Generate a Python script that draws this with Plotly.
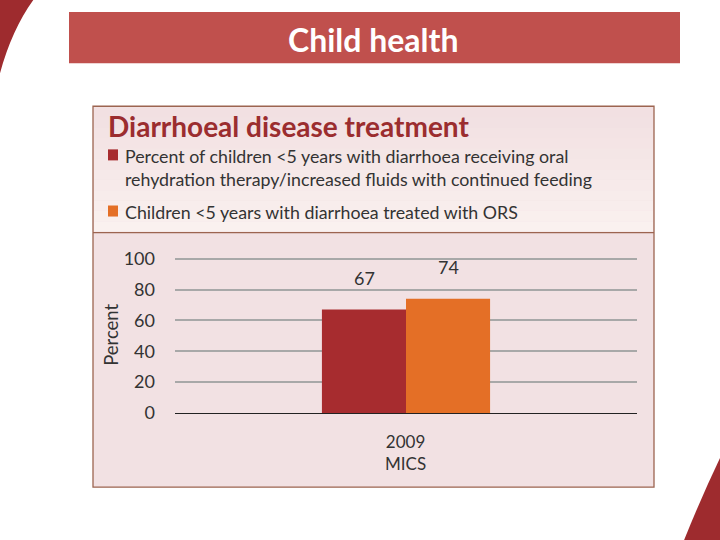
import plotly.graph_objects as go

categories = ["2009<br>MICS"]
series_names = [
    "Percent of children <5 years with diarrhoea receiving oral<br>rehydration therapy/increased fluids with continued feeding",
    "Children <5 years with diarrhoea treated with ORS",
]
series_values = [[67], [74]]
series_colors = ["#A72C2F", "#E46F26"]
y_ticks = [0, 20, 40, 60, 80, 100]

W, H = 720, 540
YMAX = 103
L, R, B = 175, 637, 413
T = B - 1.54 * YMAX  # plot area top so that 100 lands at y≈259

def px(x):
    return (x - L) / (R - L)

def py(y):
    return (B - y) / (B - T)

FONT = "Lato"
fig = go.Figure()
for name, vals, col in zip(series_names, series_values, series_colors):
    fig.add_trace(go.Bar(x=categories, y=vals, name=name, marker=dict(color=col, line=dict(width=0)),
                         showlegend=False))

shapes = []
# decorations
shapes.append(dict(type="path", xref="paper", yref="paper",
                   path=f"M {px(0)},{py(0)} L {px(34)},{py(0)} Q {px(12)},{py(30)} {px(0)},{py(74)} Z",
                   fillcolor="#9E2B2E", line=dict(width=0), layer="below"))
shapes.append(dict(type="path", xref="paper", yref="paper",
                   path=f"M {px(720)},{py(458)} Q {px(700)},{py(500)} {px(684)},{py(540)} L {px(720)},{py(540)} Z",
                   fillcolor="#9E2B2E", line=dict(width=0), layer="below"))
# title bar
shapes.append(dict(type="rect", xref="paper", yref="paper", x0=px(69), x1=px(680), y0=py(13), y1=py(64),
                   fillcolor="#C0504D", line=dict(width=0), layer="below"))
# panel
shapes.append(dict(type="rect", xref="paper", yref="paper", x0=px(93), x1=px(654), y0=py(107), y1=py(487),
                   fillcolor="#F2E1E3", line=dict(width=0), layer="below"))
# gradient in legend area
n = 12
top, bot = 108, 232
for i in range(n):
    y0 = top + (bot - top) * i / n
    y1 = top + (bot - top) * (i + 1) / n
    t = i / (n - 1)
    r = int(0xF2 + (0xFA - 0xF2) * t)
    g = int(0xE0 + (0xF1 - 0xE0) * t)
    b = int(0xE2 + (0xEF - 0xE2) * t)
    shapes.append(dict(type="rect", xref="paper", yref="paper", x0=px(94), x1=px(653), y0=py(y0), y1=py(y1),
                       fillcolor=f"rgb({r},{g},{b})", line=dict(width=0), layer="below"))
shapes.append(dict(type="rect", xref="paper", yref="paper", x0=px(93), x1=px(654), y0=py(107), y1=py(487),
                   fillcolor="rgba(0,0,0,0)", line=dict(width=1.3, color="#9C6450"), layer="below"))
shapes.append(dict(type="line", xref="paper", yref="paper", x0=px(93), x1=px(654), y0=py(233), y1=py(233),
                   line=dict(width=1.3, color="#9C6450"), layer="below"))
# legend swatches
shapes.append(dict(type="rect", xref="paper", yref="paper", x0=px(108), x1=px(118), y0=py(150), y1=py(161),
                   fillcolor=series_colors[0], line=dict(width=0)))
shapes.append(dict(type="rect", xref="paper", yref="paper", x0=px(108), x1=px(118), y0=py(206), y1=py(217),
                   fillcolor=series_colors[1], line=dict(width=0)))

ann = []
ann.append(dict(text="<b>Child health</b>", x=px(373), y=py(40), xref="paper", yref="paper", showarrow=False,
                font=dict(family=FONT, size=32, color="white"), xanchor="center", yanchor="middle"))
ann.append(dict(text="<b>Diarrhoeal disease treatment</b>", x=px(106), y=py(127), xref="paper", yref="paper",
                showarrow=False, font=dict(family=FONT, size=28, color="#9B2D2F"), xanchor="left", yanchor="middle"))
ann.append(dict(text=series_names[0], x=px(123), y=py(168), xref="paper", yref="paper", showarrow=False,
                align="left", font=dict(family=FONT, size=17.8, color="#333333"), xanchor="left", yanchor="middle"))
ann.append(dict(text=series_names[1], x=px(123), y=py(212), xref="paper", yref="paper", showarrow=False,
                align="left", font=dict(family=FONT, size=17.8, color="#333333"), xanchor="left", yanchor="middle"))
ann.append(dict(text="Percent", x=px(111), y=py(335), xref="paper", yref="paper", showarrow=False, textangle=-90,
                font=dict(family=FONT, size=18.5, color="#333333"), xanchor="center", yanchor="middle"))
ann.append(dict(text=categories[0], x=px(405), y=py(452), xref="paper", yref="paper", showarrow=False,
                font=dict(family=FONT, size=17, color="#333333"), xanchor="center", yanchor="middle"))
# value labels
for i, (vals, off) in enumerate(zip(series_values, [-42, 42])):
    ann.append(dict(text=str(vals[0]), x=categories[0], y=vals[0], xref="x", yref="y", showarrow=False,
                    xshift=off, yshift=32, font=dict(family=FONT, size=18, color="#333333"),
                    xanchor="center", yanchor="middle"))

fig.update_layout(
    width=W, height=H,
    margin=dict(l=L, r=W - R, t=T, b=H - B, pad=0),
    paper_bgcolor="white", plot_bgcolor="rgba(0,0,0,0)",
    barmode="group", bargap=0.636, bargroupgap=0,
    shapes=shapes, annotations=ann,
    font=dict(family=FONT, color="#333333"),
)
fig.update_xaxes(showticklabels=False, showgrid=False, showline=True, linecolor="#222222", linewidth=1.3,
                 zeroline=False, fixedrange=True)
fig.update_yaxes(range=[0, YMAX], tickvals=y_ticks, showgrid=True, gridcolor="#A8A8A8", gridwidth=2,
                 zeroline=False, showline=False, tickfont=dict(family=FONT, size=18, color="#333333"),
                 ticklabelstandoff=19, fixedrange=True)
fig.write_html("out.html", config={"displayModeBar": False},
               post_script="document.body.style.margin='0';document.body.style.overflow='hidden';")
